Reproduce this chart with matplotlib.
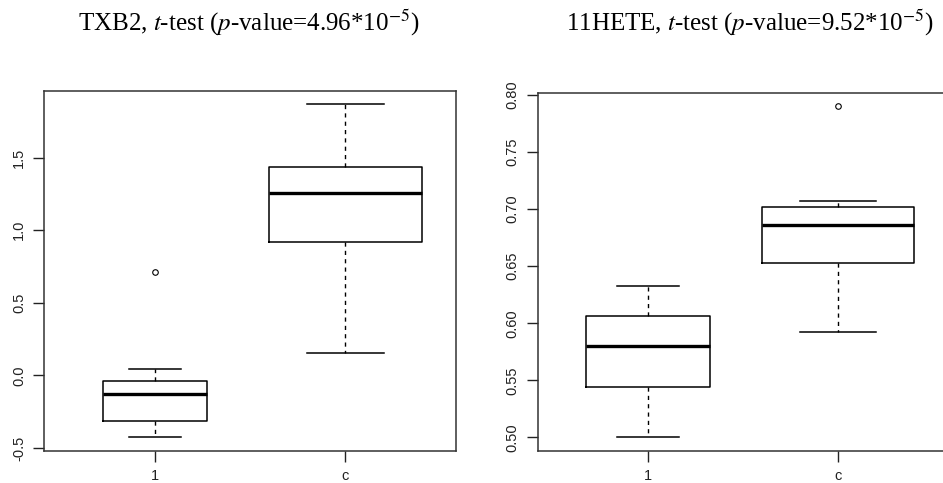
import matplotlib
matplotlib.use("Agg")
import matplotlib.pyplot as plt

plt.rcParams['mathtext.fontset'] = 'stix'
plt.rcParams['font.family'] = ['Liberation Sans', 'DejaVu Sans']

# group labels
groups = ['1', 'c']

# TXB2 box stats
txb2_med = [-0.127, 1.258]
txb2_q1 = [-0.315, 0.916]
txb2_q3 = [-0.039, 1.437]
txb2_lo = [-0.427, 0.154]
txb2_hi = [0.041, 1.866]
txb2_out = [[0.709], []]

# 11HETE box stats
hete_med = [0.580, 0.686]
hete_q1 = [0.544, 0.653]
hete_q3 = [0.606, 0.702]
hete_lo = [0.500, 0.592]
hete_hi = [0.633, 0.707]
hete_out = [[], [0.790]]

txb2_ticks = [-0.5, 0.0, 0.5, 1.0, 1.5]
hete_ticks = [0.50, 0.55, 0.60, 0.65, 0.70, 0.75, 0.80]


def make_stats(med, q1, q3, lo, hi, out):
    stats = []
    for i in range(len(med)):
        stats.append(dict(med=med[i], q1=q1[i], q3=q3[i],
                          whislo=lo[i], whishi=hi[i], fliers=out[i],
                          label=groups[i]))
    return stats


def draw_box(ax, stats, widths, ylim, ticks, fmt):
    ax.bxp(stats, positions=[1, 2], widths=widths,
           capwidths=[w * 0.5 for w in widths],
           boxprops=dict(color='black', linewidth=1.1),
           medianprops=dict(color='black', linewidth=2.4),
           whiskerprops=dict(color='black', linewidth=1.0, linestyle=(0, (3, 3))),
           capprops=dict(color='black', linewidth=1.1),
           flierprops=dict(marker='o', markersize=4, markerfacecolor='none',
                           markeredgecolor='black', markeredgewidth=0.8))
    ax.set_xlim(0.42, 2.58)
    ax.set_ylim(*ylim)
    ax.set_yticks(ticks)
    ax.set_yticklabels([fmt.format(t) for t in ticks], rotation=90, va='center')
    ax.set_xticks([1, 2])
    ax.set_xticklabels(groups)
    ax.tick_params(length=8, width=1, labelsize=10.5, colors='#222222')
    ax.tick_params(axis='y', pad=5)
    ax.tick_params(axis='x', pad=5)
    for s in ax.spines.values():
        s.set_linewidth(1.1)
        s.set_color('#333333')


fig = plt.figure(figsize=(9.43, 4.83), dpi=100)
ax1 = fig.add_axes([0.0467, 0.0663, 0.4369, 0.7453])
ax2 = fig.add_axes([0.5702, 0.0663, 0.4351, 0.7406])

draw_box(ax1, make_stats(txb2_med, txb2_q1, txb2_q3, txb2_lo, txb2_hi, txb2_out),
         [0.545, 0.805], (-0.521, 1.958), txb2_ticks, '{:.1f}')
draw_box(ax2, make_stats(hete_med, hete_q1, hete_q3, hete_lo, hete_hi, hete_out),
         [0.656, 0.803], (0.488, 0.8016), hete_ticks, '{:.2f}')

tfont = dict(family='Liberation Serif', size=18, ha='center', va='center')
fig.text(249 / 943, 1 - 23 / 483, r'TXB2, $t$-test ($p$-value=4.96*10$^{-5}$)', **tfont)
fig.text(750 / 943, 1 - 23 / 483, r'11HETE, $t$-test ($p$-value=9.52*10$^{-5}$)', **tfont)

fig.savefig('out.png', dpi=100)
